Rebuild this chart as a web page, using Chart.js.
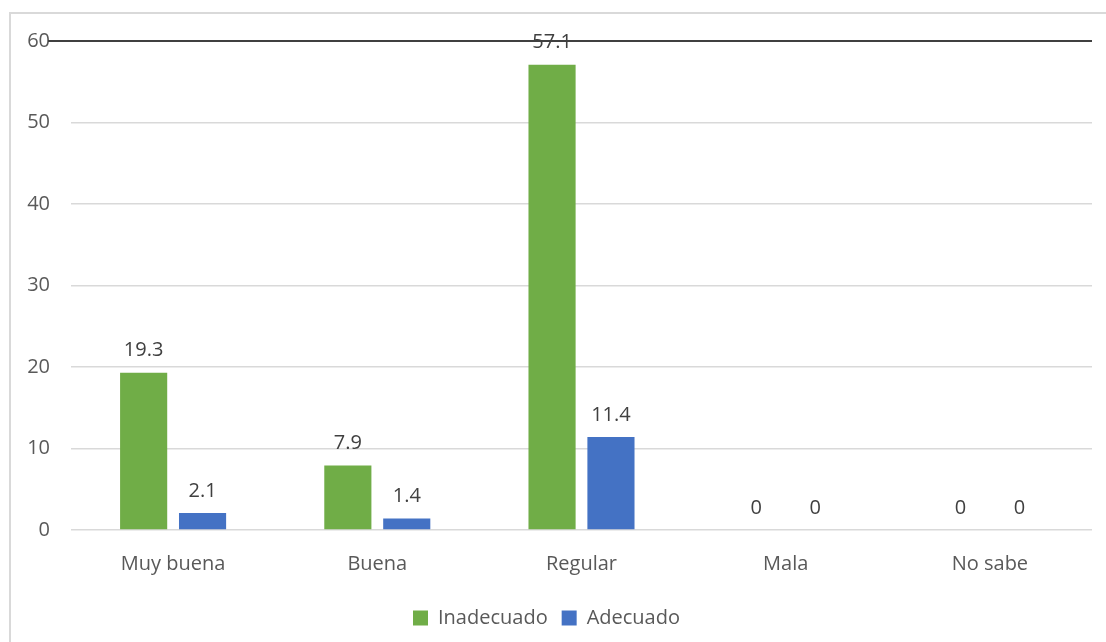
<!DOCTYPE html>
<html>
<head>
<meta charset="utf-8">
<script src="https://cdn.jsdelivr.net/npm/chart.js@4/dist/chart.umd.min.js"></script>
<style>
html,body{margin:0;padding:0;background:#fff;overflow:hidden;width:1106px;height:642px;}
#frame{position:absolute;left:9px;top:12px;width:1300px;height:800px;border-left:2px solid #d9d9d9;border-top:2px solid #d9d9d9;box-sizing:border-box;}
#c{position:absolute;left:0;top:0;}
</style>
</head>
<body>
<div id="frame"></div>
<canvas id="c" width="1106" height="642"></canvas>
<script>
const categories = ["Muy buena", "Buena", "Regular", "Mala", "No sabe"];
const inadecuado = [19.3, 7.9, 57.1, 0, 0];
const adecuado = [2.1, 1.4, 11.4, 0, 0];
const seriesNames = ["Inadecuado", "Adecuado"];
const yTicks = [0, 10, 20, 30, 40, 50, 60];

const FONT = "'Open Sans', 'Noto Sans', sans-serif";

const topLine = {
  id: 'topLine',
  beforeDatasetsDraw(chart) {
    const y = chart.scales.y.getPixelForValue(60);
    const ctx = chart.ctx;
    ctx.save();
    ctx.strokeStyle = '#404040';
    ctx.lineWidth = 2;
    ctx.beginPath();
    ctx.moveTo(48, y);
    ctx.lineTo(chart.chartArea.right, y);
    ctx.stroke();
    ctx.restore();
  }
};

const dataLabels = {
  id: 'dataLabels',
  afterDatasetsDraw(chart) {
    const ctx = chart.ctx;
    ctx.save();
    ctx.font = '20px ' + FONT;
    ctx.fillStyle = '#404040';
    ctx.textAlign = 'center';
    ctx.textBaseline = 'middle';
    chart.data.datasets.forEach((ds, i) => {
      chart.getDatasetMeta(i).data.forEach((bar, j) => {
        ctx.fillText(String(ds.data[j]), bar.x, bar.y - 22);
      });
    });
    ctx.restore();
  }
};

new Chart(document.getElementById('c'), {
  type: 'bar',
  data: {
    labels: categories,
    datasets: [
      { label: seriesNames[0], data: inadecuado, backgroundColor: '#70AD47', categoryPercentage: 0.577, barPercentage: 0.8 },
      { label: seriesNames[1], data: adecuado, backgroundColor: '#4472C4', categoryPercentage: 0.577, barPercentage: 0.8 }
    ]
  },
  options: {
    responsive: false,
    animation: false,
    layout: { padding: { left: 1, top: 41, right: 14, bottom: 4 } },
    plugins: {
      legend: {
        position: 'bottom',
        labels: {
          font: { family: FONT, size: 20 },
          color: '#595959',
          boxWidth: 15,
          boxHeight: 15,
          padding: 14
        }
      },
      tooltip: { enabled: false }
    },
    scales: {
      x: {
        grid: { display: false, drawTicks: false },
        border: { display: false },
        ticks: { font: { family: FONT, size: 20 }, color: '#595959', padding: 22 },
        afterFit(s) { s.height = 64; }
      },
      y: {
        min: 0, max: 60,
        afterBuildTicks(s) { s.ticks = yTicks.map(v => ({ value: v })); },
        grid: { color: '#d9d9d9', lineWidth: 1.5, drawTicks: false },
        border: { display: false },
        ticks: { font: { family: FONT, size: 20 }, color: '#595959', padding: 21 },
        afterFit(s) { s.width = 70; }
      }
    }
  },
  plugins: [topLine, dataLabels]
});
</script>
</body>
</html>
